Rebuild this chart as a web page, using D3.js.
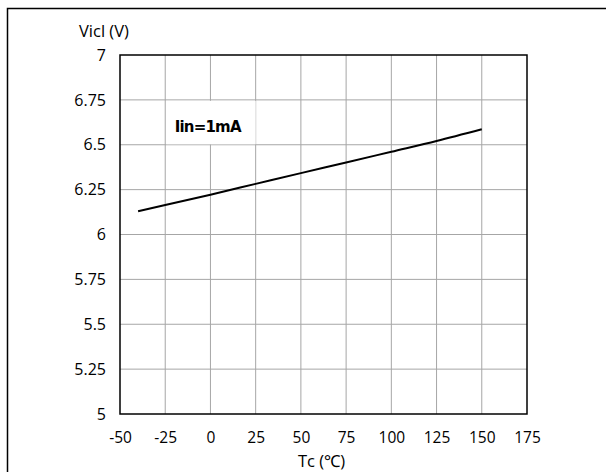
<!DOCTYPE html>
<html><head><meta charset="utf-8">
<script src="https://cdn.jsdelivr.net/npm/d3@7"></script>
<style>body{margin:0;background:#fff}svg{display:block}</style>
</head><body>
<svg id="c" width="606" height="472"></svg>
<script>
const temps = [-40, -25, 0, 25, 50, 75, 100, 125, 150];
const vicl = [6.13, 6.164, 6.222, 6.282, 6.342, 6.401, 6.461, 6.521, 6.586];
const xTicks = [-50, -25, 0, 25, 50, 75, 100, 125, 150, 175];
const xTickLabels = ["-50", "-25", "0", "25", "50", "75", "100", "125", "150", "175"];
const yTicks = [5, 5.25, 5.5, 5.75, 6, 6.25, 6.5, 6.75, 7];
const yTickLabels = ["5", "5.25", "5.5", "5.75", "6", "6.25", "6.5", "6.75", "7"];
const yTitle = "Vicl (V)";
const xTitle = "Tc (℃)";
const note = "Iin=1mA";

const svg = d3.select("#c");
const L = 120, R = 527, T = 55, B = 414;
const x = d3.scaleLinear().domain([-50, 175]).range([L, R]);
const y = d3.scaleLinear().domain([5, 7]).range([B, T]);
const font = "'Open Sans', sans-serif";

// outer frame
svg.append("path").attr("d", `M7.5,480 V8.5 H620`).attr("fill", "none").attr("stroke", "#000").attr("stroke-width", 1.5);

// grid
const g = svg.append("g");
g.selectAll(".vx").data(xTicks.slice(1, -1)).join("line")
  .attr("x1", d => x(d)).attr("x2", d => x(d)).attr("y1", T).attr("y2", B)
  .attr("stroke", "#a6a6a6").attr("stroke-width", 1);
g.selectAll(".hy").data(yTicks.slice(1, -1)).join("line")
  .attr("y1", d => y(d)).attr("y2", d => y(d)).attr("x1", L).attr("x2", R)
  .attr("stroke", "#a6a6a6").attr("stroke-width", 1);

// label box (covers grid)
svg.append("rect").attr("x", x(-25) + 1).attr("y", y(6.75) + 1)
  .attr("width", x(25) - x(-25) - 1).attr("height", y(6.5) - y(6.75) - 1.5).attr("fill", "#fff");
svg.append("text").attr("x", x(-1.5)).attr("y", y(6.5) - 13)
  .attr("text-anchor", "middle").attr("font-family", "'DejaVu Sans', sans-serif")
  .attr("font-weight", "bold").attr("font-size", 15).attr("letter-spacing", -0.8).text(note);

// plot frame
svg.append("rect").attr("x", L).attr("y", T).attr("width", R - L).attr("height", B - T)
  .attr("fill", "none").attr("stroke", "#000").attr("stroke-width", 1.5);

// axes labels via d3 axes (no lines)
const xAxis = svg.append("g").attr("transform", `translate(0,${B})`)
  .call(d3.axisBottom(x).tickValues(xTicks).tickSize(0).tickPadding(18).tickFormat((d, i) => xTickLabels[i]));
xAxis.select(".domain").remove();
xAxis.selectAll("text").attr("font-family", font).attr("font-size", 15.5).attr("fill", "#000");

const yAxis = svg.append("g").attr("transform", `translate(${L},0)`)
  .call(d3.axisLeft(y).tickValues(yTicks).tickSize(0).tickPadding(14).tickFormat((d, i) => yTickLabels[i]));
yAxis.select(".domain").remove();
yAxis.selectAll("text").attr("font-family", font).attr("font-size", 16).attr("fill", "#000");

// titles
svg.append("text").attr("x", 79).attr("y", 37).attr("font-family", font).attr("font-size", 16.5).text(yTitle);
svg.append("text").attr("x", (L + R) / 2 - 2).attr("y", 467).attr("text-anchor", "middle")
  .attr("font-family", font).attr("font-size", 16.5).text(xTitle);

// curve
const line = d3.line().x((d, i) => x(temps[i])).y(d => y(d)).curve(d3.curveMonotoneX);
svg.append("path").datum(vicl).attr("d", line).attr("fill", "none").attr("stroke", "#000").attr("stroke-width", 2);
</script>
</body></html>
